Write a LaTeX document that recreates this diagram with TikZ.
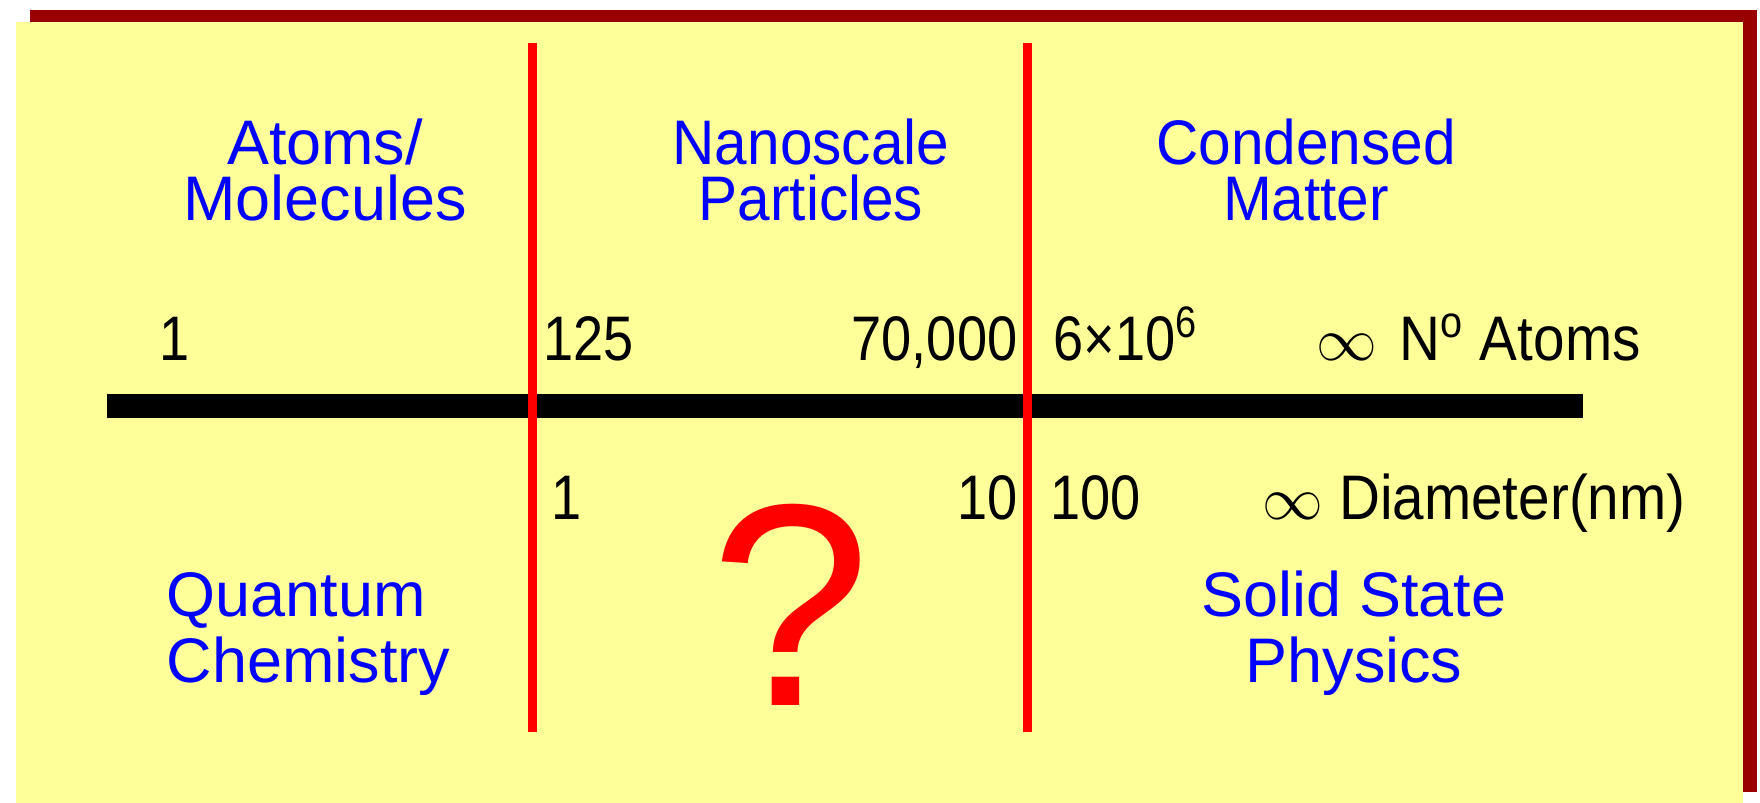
\documentclass[tikz,border=0pt]{standalone}
\usepackage{fontspec}
\setmainfont{Liberation Sans}
\newfontfamily\titlefont[FakeStretch=0.93]{Liberation Sans}
\newfontfamily\numfont[FakeStretch=0.86]{Liberation Sans}
\newfontfamily\unitfont[FakeStretch=0.9]{Liberation Sans}
\definecolor{slidebg}{RGB}{255,255,153}
\definecolor{slideshadow}{RGB}{153,0,0}
\definecolor{titleblue}{RGB}{0,0,255}
\definecolor{divred}{RGB}{255,0,0}

\begin{document}
\begin{tikzpicture}[
  x=0.01cm, y=-0.01cm,
  ttl/.style={font=\titlefont\fontsize{17.9}{15.8}\selectfont, text=titleblue, align=center, inner sep=0pt, anchor=base},
  ttlwide/.style={ttl, font=\fontsize{17.9}{18.6}\selectfont},
  num/.style={font=\numfont\fontsize{17.9}{20}\selectfont, inner sep=0pt},
  unit/.style={num, font=\unitfont\fontsize{17.9}{20}\selectfont, anchor=base west},
  divider/.style={divred, line width=0.09cm},
  axisline/.style={black, line width=0.23cm}
]
  \useasboundingbox (0,0) rectangle (1760,803);
  % --- slide with shadow ---
  \fill[slideshadow] (30,10) rectangle (1757,792);
  \fill[slidebg] (16,22) rectangle (1743,803);
  % --- dividers and axis ---
  \coordinate (d1top) at (532,43);  \coordinate (d1bot) at (532,732);
  \coordinate (d2top) at (1027,43); \coordinate (d2bot) at (1027,732);
  \coordinate (axl) at (107,406);   \coordinate (axr) at (1583,406);
  \draw[axisline] (axl) -- (axr);
  \draw[divider] (d1top) -- (d1bot);
  \draw[divider] (d2top) -- (d2bot);
  % --- headings ---
  \node[ttl, font=\fontsize{17.9}{15.8}\selectfont] (atoms) at (325,220) {Atoms/\\Molecules};
  \node[ttl] (nano) at (811,220) {Nanoscale\\Particles};
  \node[ttl] (cond) at (1306,220) {Condensed\\Matter};
  % --- number of atoms ---
  \node[num, anchor=base] (na1) at (175,360) {1};
  \node[num, anchor=base west] (na125) at (543,360) {125};
  \node[num, anchor=base east] (na70k) at (1018,360) {70,000};
  \node[num, anchor=base west] (na6m) at (1053,360) {6\texttimes10\textsuperscript{6}};
  \node[unit] (nainf) at (1316,360) {$\infty$\hspace{0.35em}N\textsuperscript{o} Atoms};
  % --- diameter ---
  \node[num, anchor=base west] (dm1) at (551,519) {1};
  \node[num, anchor=base east] (dm10) at (1018,519) {10};
  \node[num, anchor=base west] (dm100) at (1050,519) {100};
  \node[unit] (dminf) at (1262,519) {$\infty$ Diameter(nm)};
  % --- question mark ---
  \node[font=\fontsize{82}{90}\selectfont, text=divred, inner sep=0pt, anchor=base] (qmark) at (791,705) {?};
  % --- fields ---
  \node[ttlwide, align=left, anchor=base west] (qchem) at (166,682) {Quantum\\Chemistry};
  \node[ttlwide] (ssp) at (1354,682) {Solid State\\Physics};
\end{tikzpicture}
\end{document}
